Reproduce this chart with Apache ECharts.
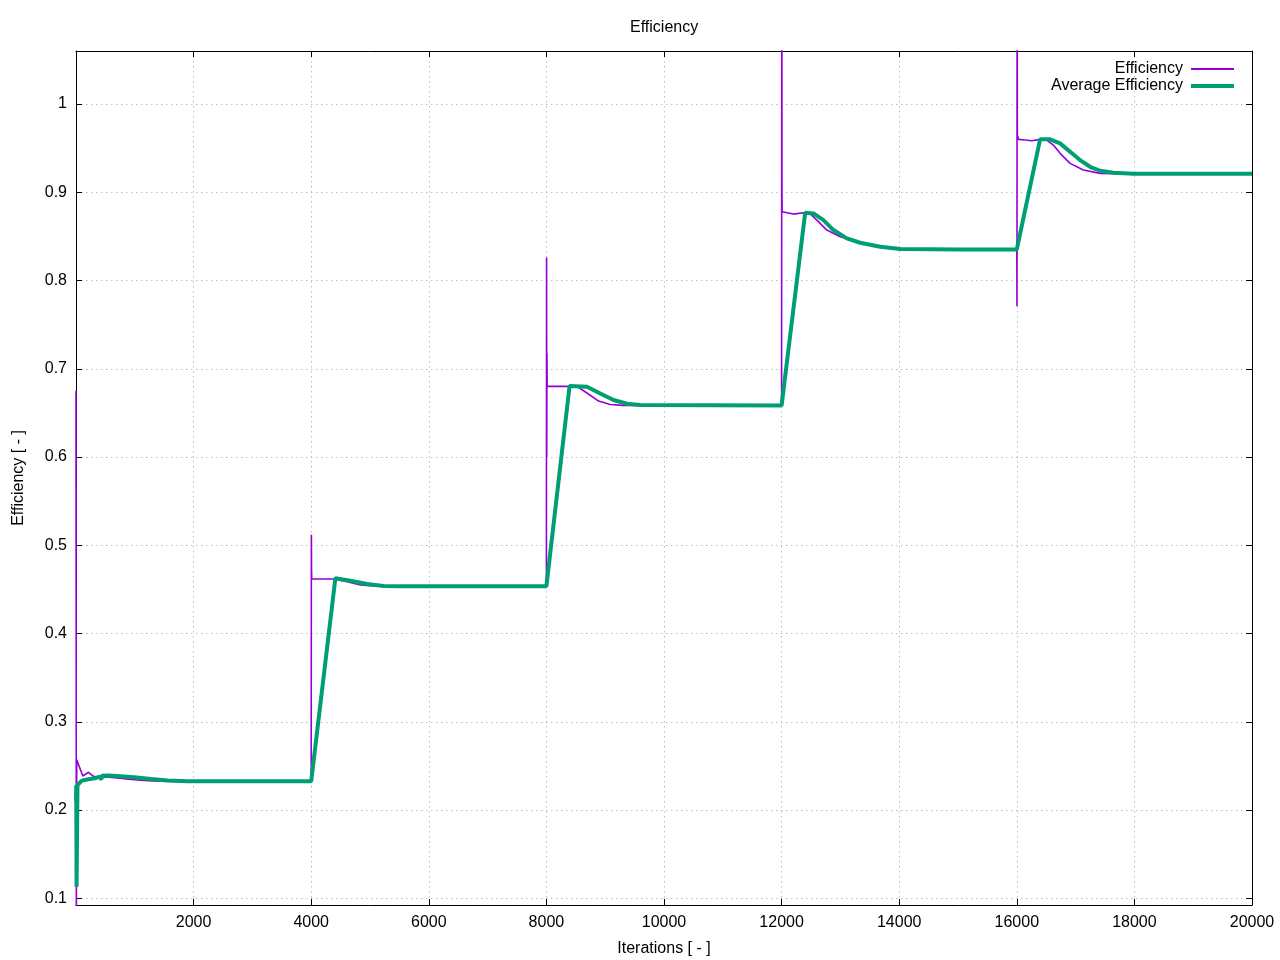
<!DOCTYPE html>
<html>
<head>
<meta charset="utf-8">
<script src="https://cdn.jsdelivr.net/npm/echarts@6/dist/echarts.min.js"></script>
<style>
html,body{margin:0;padding:0;background:#fff;}
#chart{width:1280px;height:960px;}
</style>
</head>
<body>
<div id="chart"></div>
<script>
// ---- data ----
const titleText = 'Efficiency';
const xAxisName = 'Iterations [ - ]';
const yAxisName = 'Efficiency [ - ]';
const seriesNames = ['Efficiency', 'Average Efficiency'];

const yTickValues = [0.1, 0.2, 0.3, 0.4, 0.5, 0.6, 0.7, 0.8, 0.9, 1.0];

const effIter = [
  0, 6, 12, 20, 116, 212, 286, 370, 500, 700, 900, 1100, 1300, 1500, 1700, 4000,
  4003, 4006, 4010, 4383, 4610, 4836, 5063, 5300, 8000,
  8003, 8006, 8009, 8013, 8520, 8690, 8888, 9086, 9307, 9600, 12000,
  12003, 12006, 12009, 12029, 12200, 12370, 12480, 12600, 12770, 12997, 13337, 13677, 14017, 14400, 16000,
  16003, 16006, 16009, 16030, 16141, 16255, 16396, 16510, 16622, 16736, 16906, 17132, 17416, 17700, 20000
];
const effValue = [
  0.675, 0.085, 0.257, 0.257, 0.2386, 0.2428, 0.2386, 0.2371, 0.2375, 0.2365, 0.2350, 0.2338, 0.2330, 0.2327, 0.2325, 0.2325,
  0.512, 0.470, 0.4618, 0.4618, 0.4587, 0.4550, 0.4538, 0.4535, 0.4535,
  0.826, 0.600, 0.718, 0.6804, 0.6800, 0.6726, 0.6634, 0.6596, 0.6585, 0.6585, 0.6585,
  1.300, 0.900, 0.878, 0.878, 0.8753, 0.8768, 0.8761, 0.8685, 0.8572, 0.8496, 0.8428, 0.8383, 0.8357, 0.8353, 0.8353,
  0.771, 1.300, 0.965, 0.9600, 0.9592, 0.9584, 0.9600, 0.9592, 0.9535, 0.9441, 0.9328, 0.9252, 0.9214, 0.9210, 0.9210
];

const avgIter = [
  0, 4, 10, 25, 100, 210, 320, 400, 428, 432, 438, 540, 700, 990, 1275, 1560, 1900, 4000,
  4411, 4666, 4950, 5233, 5517, 8000,
  8394, 8690, 8916, 9142, 9370, 9596, 12000,
  12401, 12542, 12712, 12882, 13109, 13336, 13676, 14016, 15036, 16000,
  16396, 16566, 16736, 16906, 17076, 17246, 17416, 17643, 17983, 20000
];
const avgValue = [
  0.210, 0.228, 0.113, 0.2284, 0.2333, 0.2348, 0.2360, 0.2378, 0.2389, 0.2345, 0.2389, 0.2392, 0.2386, 0.2371, 0.2352, 0.2335, 0.2327, 0.2325,
  0.4626, 0.4599, 0.4561, 0.4538, 0.4535, 0.4535,
  0.6806, 0.6797, 0.6720, 0.6646, 0.6604, 0.6590, 0.6585,
  0.8768, 0.8761, 0.8685, 0.8572, 0.8478, 0.8428, 0.8383, 0.8357, 0.8353, 0.8353,
  0.9600, 0.9600, 0.9554, 0.9459, 0.9365, 0.9289, 0.9244, 0.9221, 0.9210, 0.9210
];

// ---- build ----
const effData = effIter.map((x, i) => [x, effValue[i]]);
const avgData = avgIter.map((x, i) => [x, avgValue[i]]);

const FONT = 'Liberation Sans, Arial, sans-serif';
const gridLine = { show: true, lineStyle: { color: '#bdbdbd', width: 1, type: [1.5, 3.5] } };
const tickIn = { show: true, inside: true, length: 6, lineStyle: { color: '#000', width: 1 } };
const axisLineBlack = { show: true, onZero: false, lineStyle: { color: '#000', width: 1 } };
const legendText = { fontFamily: FONT, fontSize: 16, color: '#000', padding: [0, 3, 0, 0] };

const chart = echarts.init(document.getElementById('chart'), null, { renderer: 'canvas' });
chart.setOption({
  animation: false,
  backgroundColor: '#fff',
  textStyle: { fontFamily: FONT, color: '#000' },
  title: {
    text: titleText, left: 630, top: 20, padding: 0,
    textStyle: { fontFamily: FONT, fontSize: 16, fontWeight: 'normal', color: '#000' }
  },
  legend: [
    {
      data: [seriesNames[0]], right: 46, top: 61, orient: 'vertical', align: 'right',
      icon: 'rect', itemWidth: 43, itemHeight: 2, padding: 0,
      textStyle: legendText
    },
    {
      data: [seriesNames[1]], right: 46, top: 78, orient: 'vertical', align: 'right',
      icon: 'rect', itemWidth: 43, itemHeight: 4, padding: 0,
      textStyle: legendText
    }
  ],
  grid: { left: 76, right: 28, top: 51, bottom: 55, containLabel: false, outerBoundsMode: 'none' },
  xAxis: [
    {
      type: 'value', min: 0, max: 20000, interval: 2000, position: 'bottom',
      name: xAxisName, nameLocation: 'middle', nameGap: 36,
      nameTextStyle: { fontFamily: FONT, fontSize: 16, color: '#000' },
      axisLine: axisLineBlack, axisTick: tickIn,
      axisLabel: { fontFamily: FONT, fontSize: 16, color: '#000', margin: 10,
        formatter: v => (v === 0 ? '' : String(v)) },
      splitLine: gridLine
    },
    {
      type: 'value', min: 0, max: 20000, interval: 2000, position: 'top',
      axisLine: axisLineBlack, axisTick: tickIn, axisLabel: { show: false }, splitLine: { show: false }
    }
  ],
  yAxis: [
    {
      type: 'value', min: 0.0924, max: 1.0601, position: 'left',
      name: yAxisName, nameLocation: 'middle', nameGap: 49,
      nameTextStyle: { fontFamily: FONT, fontSize: 16, color: '#000' },
      axisLine: axisLineBlack,
      axisTick: Object.assign({}, tickIn, { customValues: yTickValues }),
      axisLabel: { fontFamily: FONT, fontSize: 16, color: '#000', margin: 9,
        customValues: yTickValues, formatter: v => String(+v.toFixed(1)) },
      splitLine: gridLine
    },
    {
      type: 'value', min: 0.0924, max: 1.0601, position: 'right',
      axisLine: axisLineBlack,
      axisTick: Object.assign({}, tickIn, { customValues: yTickValues }),
      axisLabel: { show: false, customValues: yTickValues }, splitLine: { show: false }
    }
  ],
  series: [
    {
      name: seriesNames[0], type: 'line', xAxisIndex: 0, yAxisIndex: 0,
      data: effData, symbol: 'none', showSymbol: false, clip: true,
      lineStyle: { color: '#9400d3', width: 1.6 }, itemStyle: { color: '#9400d3' }, z: 2
    },
    {
      name: seriesNames[1], type: 'line', xAxisIndex: 0, yAxisIndex: 0,
      data: avgData, symbol: 'none', showSymbol: false, clip: true,
      lineStyle: { color: '#009e73', width: 4 }, itemStyle: { color: '#009e73' }, z: 3
    }
  ]
});
</script>
</body>
</html>
